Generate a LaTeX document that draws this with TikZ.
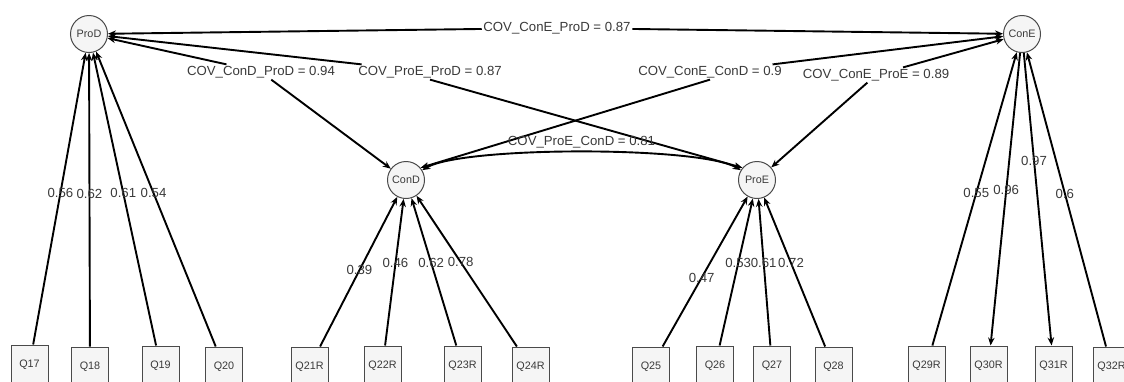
\documentclass[tikz,border=0pt]{standalone}
\usepackage{fontspec}
\setmainfont{Liberation Sans}
\usetikzlibrary{arrows.meta}
\definecolor{txt}{HTML}{3A3A3A}
\definecolor{edge}{HTML}{4A4A4A}
\tikzset{
  latent/.style={circle, draw=edge, line width=1pt, fill=gray!8, minimum size=37pt, inner sep=0pt,
    text=txt, font=\fontsize{10.8}{12}\selectfont},
  item/.style={rectangle, draw=edge, line width=1pt, fill=gray!8, minimum width=37pt, minimum height=40pt,
    inner sep=0pt, text=txt, font=\fontsize{10.8}{12}\selectfont},
  lbl/.style={text=txt, font=\fontsize{13.2}{15}\selectfont, inner sep=0pt},
  covlbl/.style={text=txt, font=\fontsize{13.2}{15}\selectfont, inner sep=1.5pt},
  conn/.style={line width=1.9pt, draw=black},
  load/.style={conn, -{Stealth[length=8pt,width=6.5pt]}},
  headend/.style={conn, -{Stealth[length=8pt,width=6.5pt]}},
  headstart/.style={conn, {Stealth[length=8pt,width=6.5pt]}-},
  cov/.style={conn, {Stealth[length=8pt,width=6.5pt]}-{Stealth[length=8pt,width=6.5pt]}},
}
\begin{document}
\begin{tikzpicture}[x=1pt,y=-1pt]
\useasboundingbox[fill=white] (0,0) rectangle (1124,381);
% latent variables
\node[latent] (ProD) at (89,34) {ProD};
\node[latent] (ConD) at (406,180) {ConD};
\node[latent] (ProE) at (757,180) {ProE};
\node[latent] (ConE) at (1022,34) {ConE};
% items
\node[item] (Q17) at (29.5,365) {Q17};
\node[item] (Q18) at (90,367) {Q18};
\node[item] (Q19) at (160.5,366) {Q19};
\node[item] (Q20) at (224,367) {Q20};
\node[item] (Q21R) at (309.5,367) {Q21R};
\node[item] (Q22R) at (382.5,366) {Q22R};
\node[item] (Q23R) at (462.5,366) {Q23R};
\node[item] (Q24R) at (530.5,367) {Q24R};
\node[item] (Q25) at (651,367) {Q25};
\node[item] (Q26) at (715,366) {Q26};
\node[item] (Q27) at (772,366) {Q27};
\node[item] (Q28) at (833.5,367) {Q28};
\node[item] (Q29R) at (926.5,366) {Q29R};
\node[item] (Q30R) at (988.5,366) {Q30R};
\node[item] (Q31R) at (1053.5,366) {Q31R};
\node[item] (Q32R) at (1111.5,367) {Q32R};
% loadings
\draw[load] (Q17) -- node[lbl,pos=0.52]{0.56} (ProD);
\draw[load] (Q18) -- node[lbl,pos=0.52]{0.62} (ProD);
\draw[load] (Q19) -- node[lbl,pos=0.52]{0.61} (ProD);
\draw[load] (Q20) -- node[lbl,pos=0.52]{0.54} (ProD);
\draw[load] (Q21R) -- node[lbl,pos=0.51]{0.39} (ConD);
\draw[load] (Q22R) -- node[lbl,pos=0.56]{0.46} (ConD);
\draw[load] (Q23R) -- node[lbl,pos=0.56]{0.62} (ConD);
\draw[load] (Q24R) -- node[lbl,pos=0.56]{0.78} (ConD);
\draw[load] (Q25) -- node[lbl,pos=0.46]{0.47} (ProE);
\draw[load] (Q26) -- node[lbl,pos=0.56]{0.53} (ProE);
\draw[load] (Q27) -- node[lbl,pos=0.56]{0.61} (ProE);
\draw[load] (Q28) -- node[lbl,pos=0.56]{0.72} (ProE);
\draw[load] (Q29R) -- node[lbl,pos=0.52]{0.55} (ConE);
\draw[load] (ConE) -- node[lbl,pos=0.47]{0.96} (Q30R);
\draw[load] (ConE) -- node[lbl,pos=0.37]{0.97} (Q31R);
\draw[load] (Q32R) -- node[lbl,pos=0.52]{0.6} (ConE);
% covariance labels
\node[covlbl] (cEPD) at (557,28) {COV\_ConE\_ProD = 0.87};
\node[covlbl] (cDPD) at (261,72) {COV\_ConD\_ProD = 0.94};
\node[covlbl] (cPEPD) at (430,72) {COV\_ProE\_ProD = 0.87};
\node[covlbl] (cEDC) at (710,72) {COV\_ConE\_ConD = 0.9};
\node[covlbl] (cEPE) at (876,75) {COV\_ConE\_ProE = 0.89};
% covariances (each split at its label)
\draw[headstart] (ProD) -- (cEPD);
\draw[headend] (cEPD) -- (ConE);
\draw[headstart] (ProD) -- (cDPD);
\draw[headend] (cDPD) -- (ConD);
\draw[headstart] (ProD) -- (cPEPD);
\draw[headend] (cPEPD.south) -- (ProE.140);
\draw[headstart] (ConE) -- (cEDC);
\draw[headend] (cEDC.south) -- (ConD.40);
\draw[headstart] (ConE) -- (cEPE);
\draw[headend] (cEPE) -- (ProE);
\draw[cov] (ConD) .. controls (462,146) and (701,146) .. node[covlbl,above=1pt] (cPEDC) {COV\_ProE\_ConD = 0.81} (ProE);
\end{tikzpicture}
\end{document}
